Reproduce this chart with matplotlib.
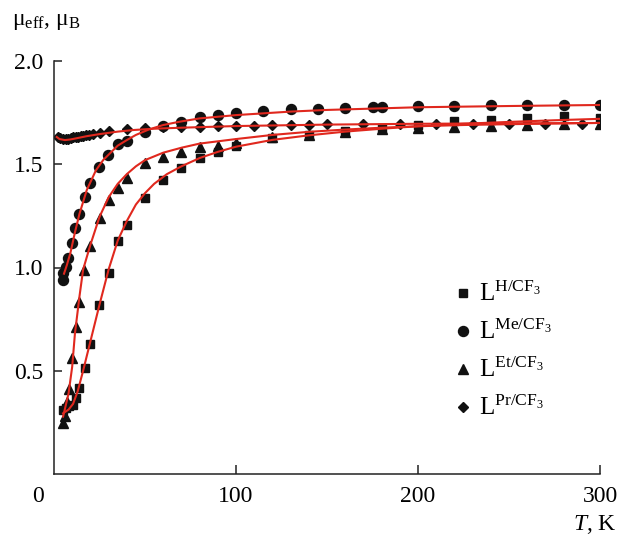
import numpy as np
import matplotlib
matplotlib.use("Agg")
import matplotlib.pyplot as plt
from matplotlib.transforms import ScaledTranslation

plt.rcParams['font.family'] = ['Liberation Serif', 'DejaVu Serif']
plt.rcParams['mathtext.fontset'] = 'custom'
plt.rcParams['mathtext.rm'] = 'Liberation Serif'
plt.rcParams['mathtext.it'] = 'Liberation Serif:italic'

# ---- measured points: T (K), mu_eff (mu_B) ----
T_H = [5, 6.8, 8.5, 10.3, 12.1, 13.9, 17, 19.8, 24.8, 30, 35, 40, 50, 60, 70, 80, 90, 100,
       120, 140, 160, 180, 200, 220, 240, 260, 280, 300]
mu_H = [0.308, 0.318, 0.328, 0.334, 0.367, 0.415, 0.515, 0.63, 0.816, 0.973, 1.128, 1.206,
        1.335, 1.426, 1.483, 1.529, 1.561, 1.59, 1.628, 1.642, 1.66, 1.675, 1.69, 1.71,
        1.715, 1.725, 1.732, 1.725]

T_Me = [4.8, 5.1, 6.6, 7.9, 10, 11.5, 13.9, 17, 19.8, 24.9, 29.8, 35, 40, 50, 60, 70, 80, 90,
        100, 115, 130, 145, 160, 175, 180, 200, 220, 240, 260, 280, 300]
mu_Me = [0.94, 0.975, 1.004, 1.047, 1.12, 1.193, 1.258, 1.34, 1.408, 1.485, 1.545, 1.60,
         1.614, 1.658, 1.685, 1.706, 1.727, 1.737, 1.747, 1.758, 1.766, 1.768, 1.771, 1.779,
         1.779, 1.782, 1.784, 1.785, 1.788, 1.787, 1.788]

T_Et = [5.1, 6, 7, 8.2, 9.9, 12, 14, 16.5, 20, 25, 30, 35, 40, 50, 60, 70, 80, 90, 100,
        120, 140, 160, 180, 200, 220, 240, 260, 280, 300]
mu_Et = [0.245, 0.282, 0.35, 0.41, 0.56, 0.71, 0.833, 0.988, 1.104, 1.238, 1.327, 1.387,
         1.432, 1.506, 1.536, 1.561, 1.582, 1.59, 1.601, 1.633, 1.644, 1.658, 1.669, 1.677,
         1.682, 1.685, 1.69, 1.693, 1.693]

T_Pr = [2.4, 3.5, 5.1, 6.5, 7.9, 9.2, 10.6, 12, 13.4, 14.7, 16, 17.5, 19, 21.6, 25, 30, 40,
        50, 60, 70, 80, 90, 100, 110, 120, 130, 140, 150, 170, 190, 210, 230, 250, 270, 290]
mu_Pr = [1.632, 1.625, 1.621, 1.622, 1.624, 1.626, 1.63, 1.631, 1.634, 1.635, 1.637, 1.64,
         1.642, 1.646, 1.65, 1.661, 1.669, 1.677, 1.679, 1.68, 1.682, 1.684, 1.686, 1.687,
         1.688, 1.689, 1.69, 1.694, 1.695, 1.695, 1.697, 1.697, 1.696, 1.696, 1.697]

# ---- fitted curves ----
fitT_H = [5, 8, 10.5, 13, 16, 20.5, 25, 30, 35, 40, 45, 50, 55, 62, 70, 80, 90, 100, 120,
          140, 160, 180, 200, 225, 250, 275, 300]
fitmu_H = [0.294, 0.312, 0.34, 0.40, 0.50, 0.66, 0.82, 0.99, 1.13, 1.225, 1.305, 1.36,
           1.405, 1.452, 1.49, 1.53, 1.56, 1.585, 1.618, 1.64, 1.658, 1.672, 1.684, 1.696,
           1.705, 1.713, 1.72]

fitT_Me = [5.5, 7, 9, 11.5, 14, 18, 23, 27, 31, 35, 40, 45, 52, 60, 69, 80, 100, 130, 150,
           200, 250, 300]
fitmu_Me = [0.97, 1.01, 1.07, 1.17, 1.26, 1.375, 1.47, 1.52, 1.555, 1.59, 1.617, 1.642,
            1.668, 1.69, 1.706, 1.722, 1.738, 1.755, 1.763, 1.776, 1.782, 1.787]

fitT_Et = [5, 8, 10, 11.5, 14, 16, 20, 25, 30, 35, 40, 45, 50, 60, 70, 80, 100, 120, 140,
           160, 180, 200, 225, 250, 275, 300]
fitmu_Et = [0.278, 0.39, 0.52, 0.68, 0.86, 0.99, 1.11, 1.245, 1.34, 1.405, 1.452, 1.49,
            1.52, 1.556, 1.58, 1.60, 1.622, 1.642, 1.657, 1.668, 1.677, 1.684, 1.69, 1.694,
            1.697, 1.70]

fitT_Pr = [1.5, 3, 6, 9, 12.5, 18, 25, 35, 44, 55, 70, 100, 150, 200, 250, 300]
fitmu_Pr = [1.632, 1.622, 1.617, 1.62, 1.626, 1.636, 1.646, 1.658, 1.666, 1.672, 1.677,
            1.685, 1.692, 1.696, 1.698, 1.70]

labels = [r'L$^{\mathrm{H/CF}_3}$', r'L$^{\mathrm{Me/CF}_3}$',
          r'L$^{\mathrm{Et/CF}_3}$', r'L$^{\mathrm{Pr/CF}_3}$']

fig = plt.figure(figsize=(6.21, 5.37), dpi=100)
ax = fig.add_axes([54/621, 1 - 474/537, 546/621, 413/537])

black = '#111111'
red = '#e0281e'

series = [(T_H, mu_H, 's', 5.8), (T_Me, mu_Me, 'o', 7.2),
          (T_Et, mu_Et, '^', 7.6), (T_Pr, mu_Pr, 'D', 5.6)]
fits = [(fitT_H, fitmu_H), (fitT_Me, fitmu_Me), (fitT_Et, fitmu_Et), (fitT_Pr, fitmu_Pr)]

handles = []
for (t, mu, mk, ms), lab in zip(series, labels):
    h, = ax.plot(t, mu, ls='none', marker=mk, ms=ms, color=black, mec=black, zorder=2,
                 label=lab)
    handles.append(h)
for t, mu in fits:
    ax.plot(t, mu, color=red, lw=1.5, zorder=3, solid_joinstyle='round')

ax.set_xlim(0, 300)
ax.set_ylim(0, 2.0)
ax.set_xticks([0, 100, 200, 300])
ax.set_yticks([0.5, 1.0, 1.5, 2.0])
ax.set_yticklabels(['0.5', '1.0', '1.5', '2.0'])
ax.tick_params(direction='in', labelsize=17, width=1.1, color='#222222')
ax.tick_params(axis='x', length=6.5, pad=9)
ax.tick_params(axis='y', length=5.5, pad=8)
for s in ['top', 'right']:
    ax.spines[s].set_visible(False)
for s in ['left', 'bottom']:
    ax.spines[s].set_linewidth(1.1)
    ax.spines[s].set_color('#222222')
ax.xaxis.get_major_ticks()[0].tick1line.set_visible(False)

# origin label sits left of the y axis
lab0 = ax.get_xticklabels()[0]
lab0.set_transform(lab0.get_transform() + ScaledTranslation(-0.16, 0, fig.dpi_scale_trans))

fig.text(12/621, 1 - 22/537, r'μ$_{\mathrm{eff}}$, μ$_{\mathrm{B}}$', fontsize=17,
         ha='left', va='center')
fig.text(617/621, 1 - 524/537, r'$\mathit{T}$, K', fontsize=17, ha='right', va='center')

ax.legend(handles=handles, loc='upper left', bbox_to_anchor=(0.712, 0.489), frameon=False,
          fontsize=18, handlelength=0.8, handletextpad=0.25, labelspacing=0.55,
          borderaxespad=0)

fig.savefig('out.png', dpi=100)
